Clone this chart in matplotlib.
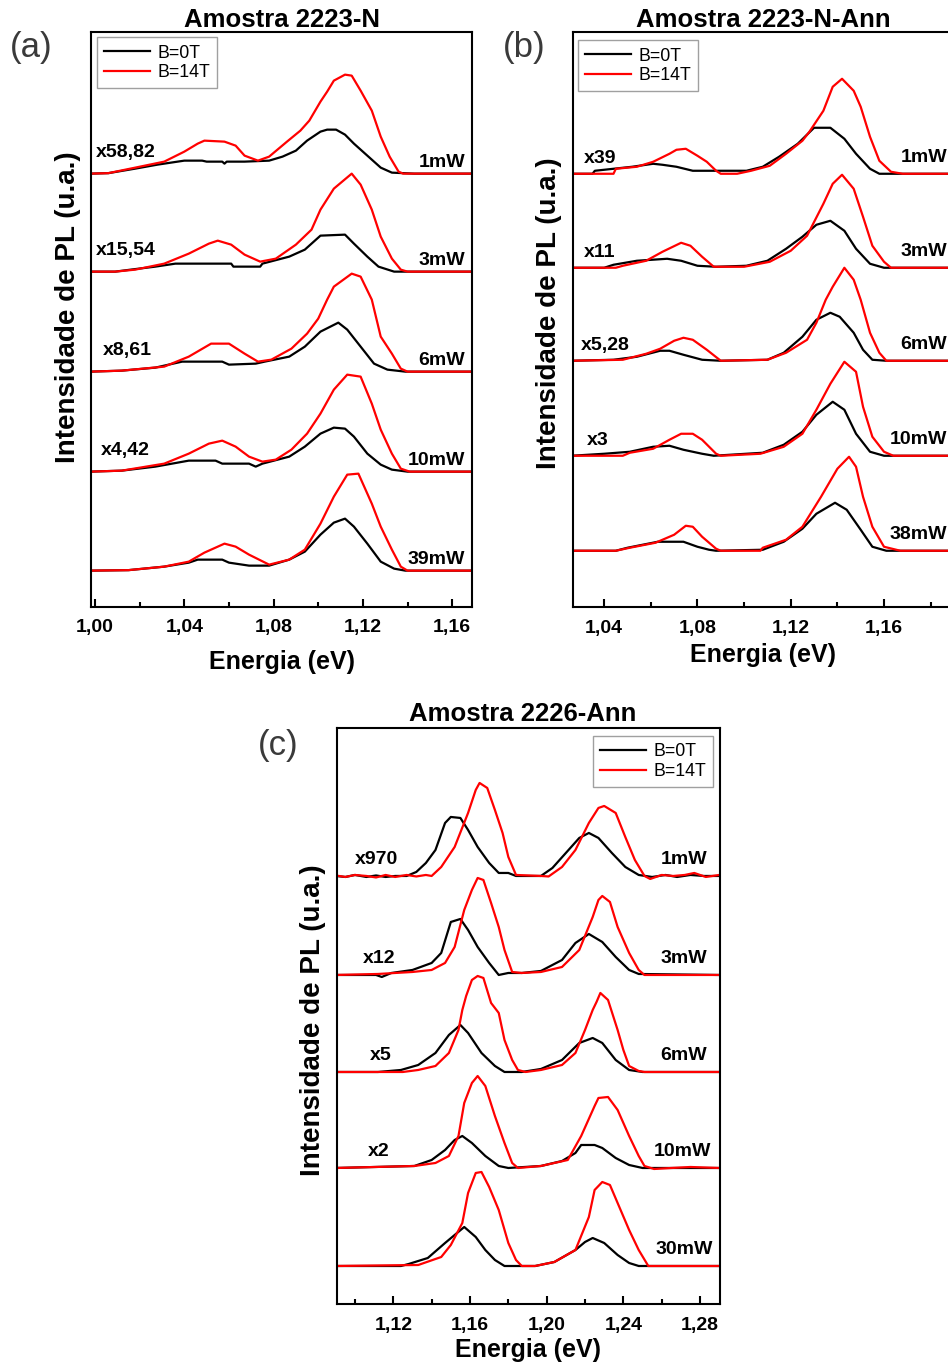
import matplotlib.pyplot as plt
from matplotlib.ticker import MultipleLocator, FuncFormatter

# fonte tipo Arial, tudo em negrito por padrao
plt.rcParams['font.family'] = ['Liberation Sans', 'DejaVu Sans']
plt.rcParams['font.weight'] = 'bold'
plt.rcParams['axes.labelweight'] = 'bold'

# ---------------- painel (a): Amostra 2223-N ----------------
A_POT = ['1mW', '3mW', '6mW', '10mW', '39mW']
A_FATOR = ['x58,82', 'x15,54', 'x8,61', 'x4,42', '']
A_OFFSET = [3.97, 2.99, 1.99, 0.99, 0.0]

a1_e0 = [0.998, 1.006, 1.018, 1.028, 1.040, 1.048, 1.050, 1.057, 1.058, 1.059, 1.067, 1.078, 1.084, 1.090, 1.095, 1.101, 1.104, 1.108, 1.112, 1.116, 1.121, 1.125, 1.128, 1.133, 1.143, 1.169]
a1_i0 = [0, 0.005, 0.05, 0.09, 0.13, 0.13, 0.12, 0.12, 0.10, 0.12, 0.12, 0.13, 0.17, 0.23, 0.33, 0.42, 0.44, 0.44, 0.39, 0.30, 0.20, 0.12, 0.06, 0.01, 0, 0]
a1_e14 = [0.998, 1.006, 1.018, 1.031, 1.040, 1.046, 1.049, 1.058, 1.063, 1.067, 1.073, 1.078, 1.086, 1.092, 1.096, 1.101, 1.104, 1.107, 1.112, 1.115, 1.119, 1.124, 1.128, 1.132, 1.136, 1.138, 1.169]
a1_i14 = [0, 0.005, 0.06, 0.12, 0.22, 0.30, 0.33, 0.32, 0.28, 0.18, 0.13, 0.17, 0.32, 0.43, 0.53, 0.72, 0.82, 0.93, 0.99, 0.98, 0.83, 0.63, 0.37, 0.17, 0.02, 0, 0]

a3_e0 = [0.998, 1.009, 1.016, 1.027, 1.036, 1.061, 1.062, 1.074, 1.075, 1.087, 1.094, 1.101, 1.112, 1.116, 1.122, 1.127, 1.134, 1.169]
a3_i0 = [0, 0, 0.02, 0.05, 0.08, 0.08, 0.05, 0.05, 0.08, 0.15, 0.22, 0.36, 0.37, 0.28, 0.15, 0.05, 0, 0]
a3_e14 = [0.998, 1.009, 1.018, 1.031, 1.042, 1.051, 1.055, 1.061, 1.067, 1.074, 1.081, 1.090, 1.097, 1.101, 1.107, 1.115, 1.119, 1.124, 1.128, 1.133, 1.137, 1.140, 1.169]
a3_i14 = [0, 0, 0.02, 0.08, 0.18, 0.28, 0.31, 0.27, 0.17, 0.10, 0.13, 0.27, 0.42, 0.62, 0.83, 0.98, 0.87, 0.62, 0.35, 0.13, 0.02, 0, 0]

a6_e0 = [0.998, 1.012, 1.027, 1.039, 1.057, 1.060, 1.072, 1.076, 1.087, 1.094, 1.101, 1.109, 1.113, 1.119, 1.125, 1.131, 1.139, 1.169]
a6_i0 = [0, 0.01, 0.04, 0.10, 0.10, 0.07, 0.08, 0.10, 0.15, 0.25, 0.40, 0.49, 0.42, 0.25, 0.08, 0.02, 0, 0]
a6_e14 = [0.998, 1.012, 1.031, 1.042, 1.052, 1.060, 1.067, 1.073, 1.079, 1.088, 1.095, 1.100, 1.104, 1.107, 1.115, 1.119, 1.124, 1.128, 1.133, 1.137, 1.140, 1.169]
a6_i14 = [0, 0.01, 0.05, 0.15, 0.28, 0.28, 0.18, 0.10, 0.12, 0.23, 0.38, 0.53, 0.72, 0.85, 0.98, 0.95, 0.72, 0.35, 0.18, 0.03, 0, 0]

a10_e0 = [0.998, 1.012, 1.027, 1.042, 1.054, 1.057, 1.069, 1.072, 1.075, 1.087, 1.094, 1.101, 1.107, 1.112, 1.116, 1.122, 1.128, 1.133, 1.140, 1.169]
a10_i0 = [0, 0.01, 0.05, 0.11, 0.11, 0.08, 0.08, 0.05, 0.08, 0.15, 0.25, 0.38, 0.44, 0.43, 0.35, 0.18, 0.07, 0.02, 0, 0]
a10_e14 = [0.998, 1.012, 1.031, 1.042, 1.051, 1.057, 1.063, 1.069, 1.075, 1.081, 1.088, 1.095, 1.101, 1.107, 1.113, 1.119, 1.124, 1.128, 1.133, 1.137, 1.141, 1.169]
a10_i14 = [0, 0.01, 0.08, 0.18, 0.28, 0.31, 0.25, 0.15, 0.10, 0.12, 0.22, 0.38, 0.58, 0.82, 0.97, 0.95, 0.68, 0.42, 0.18, 0.03, 0, 0]

a39_e0 = [0.998, 1.015, 1.031, 1.042, 1.046, 1.057, 1.060, 1.069, 1.078, 1.087, 1.094, 1.101, 1.107, 1.112, 1.116, 1.122, 1.128, 1.134, 1.139, 1.169]
a39_i0 = [0, 0.005, 0.04, 0.08, 0.11, 0.11, 0.08, 0.05, 0.05, 0.11, 0.19, 0.36, 0.48, 0.52, 0.44, 0.27, 0.09, 0.02, 0, 0]
a39_e14 = [0.998, 1.015, 1.031, 1.042, 1.049, 1.058, 1.063, 1.069, 1.078, 1.087, 1.094, 1.101, 1.107, 1.113, 1.118, 1.124, 1.128, 1.133, 1.137, 1.140, 1.169]
a39_i14 = [0, 0.005, 0.04, 0.09, 0.18, 0.27, 0.24, 0.16, 0.06, 0.11, 0.21, 0.47, 0.74, 0.96, 0.97, 0.67, 0.44, 0.21, 0.04, 0, 0]

# ---------------- painel (b): Amostra 2223-N-Ann ----------------
B_POT = ['1mW', '3mW', '6mW', '10mW', '38mW']
B_FATOR = ['x39', 'x11', 'x5,28', 'x3', '']
B_OFFSET = [3.77, 2.83, 1.90, 0.95, 0.0]

b1_e0 = [1.026, 1.035, 1.036, 1.044, 1.052, 1.061, 1.065, 1.071, 1.078, 1.088, 1.101, 1.108, 1.115, 1.123, 1.130, 1.137, 1.143, 1.148, 1.154, 1.158, 1.19]
b1_i0 = [0, 0, 0.03, 0.05, 0.07, 0.10, 0.09, 0.07, 0.03, 0.03, 0.03, 0.07, 0.17, 0.30, 0.46, 0.46, 0.35, 0.20, 0.05, 0, 0]
b1_e14 = [1.026, 1.044, 1.045, 1.054, 1.061, 1.068, 1.071, 1.075, 1.080, 1.084, 1.088, 1.090, 1.097, 1.103, 1.111, 1.118, 1.125, 1.128, 1.134, 1.138, 1.142, 1.147, 1.150, 1.154, 1.158, 1.163, 1.168, 1.19]
b1_i14 = [0, 0, 0.05, 0.07, 0.12, 0.20, 0.24, 0.25, 0.18, 0.12, 0.03, 0, 0, 0.03, 0.08, 0.20, 0.33, 0.42, 0.63, 0.87, 0.95, 0.83, 0.67, 0.37, 0.13, 0.02, 0, 0]

b3_e0 = [1.026, 1.040, 1.044, 1.054, 1.067, 1.073, 1.080, 1.088, 1.101, 1.110, 1.118, 1.125, 1.131, 1.137, 1.143, 1.148, 1.154, 1.160, 1.19]
b3_i0 = [0, 0, 0.03, 0.07, 0.09, 0.07, 0.02, 0.01, 0.02, 0.07, 0.19, 0.31, 0.43, 0.47, 0.37, 0.19, 0.04, 0, 0]
b3_e14 = [1.026, 1.045, 1.048, 1.058, 1.065, 1.073, 1.077, 1.082, 1.087, 1.100, 1.111, 1.120, 1.127, 1.134, 1.138, 1.142, 1.147, 1.151, 1.155, 1.160, 1.163, 1.19]
b3_i14 = [0, 0, 0.02, 0.07, 0.16, 0.25, 0.22, 0.11, 0.01, 0.01, 0.06, 0.17, 0.32, 0.64, 0.84, 0.93, 0.79, 0.51, 0.22, 0.06, 0, 0]

b6_e0 = [1.026, 1.044, 1.054, 1.064, 1.068, 1.074, 1.082, 1.090, 1.110, 1.117, 1.125, 1.131, 1.137, 1.141, 1.147, 1.151, 1.155, 1.161, 1.19]
b6_i0 = [0, 0.01, 0.04, 0.10, 0.10, 0.06, 0.01, 0, 0.01, 0.08, 0.24, 0.41, 0.48, 0.44, 0.28, 0.11, 0.01, 0, 0]
b6_e14 = [1.026, 1.048, 1.058, 1.064, 1.070, 1.074, 1.078, 1.084, 1.090, 1.110, 1.118, 1.127, 1.131, 1.135, 1.138, 1.143, 1.147, 1.150, 1.154, 1.158, 1.161, 1.19]
b6_i14 = [0, 0.01, 0.07, 0.12, 0.20, 0.23, 0.21, 0.11, 0, 0.01, 0.08, 0.21, 0.38, 0.61, 0.74, 0.93, 0.81, 0.61, 0.28, 0.08, 0, 0]

b10_e0 = [1.026, 1.040, 1.051, 1.061, 1.068, 1.074, 1.082, 1.087, 1.108, 1.117, 1.125, 1.131, 1.138, 1.143, 1.148, 1.154, 1.160, 1.19]
b10_i0 = [0, 0.02, 0.04, 0.09, 0.10, 0.06, 0.02, 0, 0.03, 0.11, 0.24, 0.41, 0.54, 0.46, 0.22, 0.04, 0, 0]
b10_e14 = [1.026, 1.048, 1.051, 1.061, 1.068, 1.073, 1.078, 1.082, 1.088, 1.090, 1.107, 1.117, 1.125, 1.131, 1.137, 1.143, 1.148, 1.151, 1.155, 1.160, 1.164, 1.19]
b10_i14 = [0, 0, 0.03, 0.07, 0.16, 0.22, 0.22, 0.16, 0.02, 0, 0.02, 0.09, 0.22, 0.46, 0.72, 0.94, 0.84, 0.49, 0.19, 0.04, 0, 0]

b38_e0 = [1.026, 1.045, 1.050, 1.063, 1.074, 1.080, 1.085, 1.088, 1.108, 1.117, 1.125, 1.131, 1.139, 1.144, 1.150, 1.155, 1.161, 1.19]
b38_i0 = [0, 0, 0.03, 0.09, 0.09, 0.04, 0.01, 0, 0.01, 0.09, 0.22, 0.37, 0.48, 0.41, 0.21, 0.04, 0, 0]
b38_e14 = [1.026, 1.045, 1.051, 1.062, 1.070, 1.075, 1.078, 1.082, 1.088, 1.090, 1.107, 1.108, 1.118, 1.125, 1.133, 1.140, 1.145, 1.148, 1.151, 1.155, 1.160, 1.167, 1.19]
b38_i14 = [0, 0, 0.03, 0.08, 0.16, 0.25, 0.24, 0.14, 0.02, 0, 0, 0.03, 0.11, 0.24, 0.54, 0.82, 0.94, 0.84, 0.54, 0.24, 0.04, 0, 0]

# ---------------- painel (c): Amostra 2226-Ann ----------------
C_POT = ['1mW', '3mW', '6mW', '10mW', '30mW']
C_FATOR = ['x970', 'x12', 'x5', 'x2', '']
C_OFFSET = [3.90, 2.91, 1.94, 0.98, 0.0]

c1_e0 = [1.090, 1.095, 1.100, 1.106, 1.111, 1.116, 1.121, 1.127, 1.132, 1.137, 1.142, 1.147, 1.150, 1.155, 1.159, 1.164, 1.170, 1.175, 1.180, 1.184, 1.197, 1.203, 1.210, 1.217, 1.222, 1.227, 1.234, 1.241, 1.248, 1.255, 1.262, 1.268, 1.275, 1.282, 1.290]
c1_i0 = [0, -0.01, 0.01, -0.01, 0.005, -0.01, 0, 0, 0.04, 0.13, 0.26, 0.53, 0.59, 0.58, 0.46, 0.29, 0.13, 0.03, 0.03, 0, 0, 0.08, 0.23, 0.38, 0.43, 0.38, 0.23, 0.09, 0.01, -0.01, 0.01, -0.01, 0.01, 0, 0]
c1_e14 = [1.090, 1.095, 1.100, 1.106, 1.111, 1.116, 1.121, 1.127, 1.132, 1.137, 1.140, 1.145, 1.152, 1.159, 1.163, 1.165, 1.169, 1.173, 1.177, 1.180, 1.184, 1.197, 1.201, 1.208, 1.215, 1.222, 1.227, 1.230, 1.236, 1.241, 1.246, 1.251, 1.254, 1.260, 1.266, 1.272, 1.277, 1.283, 1.290]
c1_i14 = [0.005, -0.01, 0.01, 0, -0.015, 0.01, -0.01, 0.01, -0.005, 0.01, 0, 0.09, 0.29, 0.63, 0.86, 0.93, 0.88, 0.66, 0.43, 0.19, 0.01, 0, -0.005, 0.09, 0.26, 0.53, 0.68, 0.70, 0.63, 0.39, 0.16, 0, -0.03, 0.01, 0, 0.01, 0.03, -0.01, 0.01]

c3_e0 = [1.090, 1.111, 1.114, 1.119, 1.130, 1.140, 1.145, 1.150, 1.155, 1.159, 1.164, 1.170, 1.175, 1.180, 1.187, 1.197, 1.208, 1.215, 1.222, 1.229, 1.236, 1.243, 1.248, 1.290]
c3_i0 = [0, 0, -0.02, 0.02, 0.05, 0.12, 0.22, 0.53, 0.56, 0.45, 0.28, 0.12, 0, 0.02, 0.02, 0.04, 0.15, 0.32, 0.41, 0.33, 0.18, 0.05, 0.01, 0]
c3_e14 = [1.090, 1.112, 1.130, 1.140, 1.147, 1.152, 1.157, 1.161, 1.164, 1.167, 1.171, 1.175, 1.178, 1.182, 1.187, 1.197, 1.208, 1.217, 1.224, 1.227, 1.229, 1.233, 1.237, 1.243, 1.248, 1.251, 1.290]
c3_i14 = [0, 0.01, 0.03, 0.05, 0.12, 0.28, 0.65, 0.85, 0.97, 0.95, 0.72, 0.48, 0.25, 0.03, 0.02, 0.03, 0.08, 0.25, 0.58, 0.75, 0.79, 0.73, 0.48, 0.22, 0.05, 0, 0]

c6_e0 = [1.090, 1.112, 1.124, 1.133, 1.142, 1.149, 1.155, 1.159, 1.166, 1.173, 1.178, 1.187, 1.197, 1.208, 1.217, 1.224, 1.229, 1.236, 1.243, 1.250, 1.290]
c6_i0 = [0, 0, 0.02, 0.07, 0.19, 0.37, 0.47, 0.39, 0.19, 0.06, 0, 0, 0.03, 0.12, 0.29, 0.34, 0.29, 0.12, 0.02, 0, 0]
c6_e14 = [1.090, 1.125, 1.133, 1.142, 1.149, 1.154, 1.156, 1.158, 1.161, 1.164, 1.167, 1.171, 1.175, 1.178, 1.182, 1.185, 1.189, 1.197, 1.208, 1.215, 1.220, 1.224, 1.226, 1.228, 1.232, 1.237, 1.240, 1.243, 1.248, 1.251, 1.290]
c6_i14 = [0, 0, 0.02, 0.06, 0.19, 0.42, 0.62, 0.76, 0.92, 0.96, 0.94, 0.69, 0.59, 0.32, 0.12, 0.02, 0, 0.02, 0.07, 0.19, 0.42, 0.62, 0.70, 0.79, 0.72, 0.42, 0.22, 0.06, 0.01, 0, 0]

c10_e0 = [1.090, 1.131, 1.140, 1.147, 1.152, 1.156, 1.161, 1.168, 1.175, 1.180, 1.197, 1.208, 1.215, 1.218, 1.225, 1.229, 1.236, 1.243, 1.250, 1.290]
c10_i0 = [0, 0.02, 0.08, 0.18, 0.28, 0.32, 0.25, 0.12, 0.02, 0, 0.02, 0.07, 0.15, 0.23, 0.23, 0.20, 0.10, 0.03, 0, 0]
c10_e14 = [1.090, 1.131, 1.142, 1.149, 1.154, 1.157, 1.161, 1.164, 1.168, 1.173, 1.178, 1.182, 1.185, 1.197, 1.211, 1.218, 1.225, 1.227, 1.232, 1.237, 1.243, 1.248, 1.251, 1.256, 1.265, 1.275, 1.290]
c10_i14 = [0, 0.02, 0.05, 0.12, 0.32, 0.65, 0.85, 0.92, 0.82, 0.52, 0.25, 0.05, 0, 0.02, 0.08, 0.32, 0.62, 0.70, 0.71, 0.58, 0.32, 0.12, 0.02, -0.01, 0, 0.01, 0]

c30_e0 = [1.090, 1.124, 1.128, 1.138, 1.147, 1.152, 1.157, 1.163, 1.168, 1.173, 1.178, 1.194, 1.204, 1.215, 1.220, 1.224, 1.230, 1.237, 1.243, 1.248, 1.290]
c30_i0 = [0, 0, 0.02, 0.08, 0.23, 0.31, 0.39, 0.29, 0.16, 0.06, 0, 0, 0.04, 0.16, 0.24, 0.28, 0.23, 0.11, 0.03, 0, 0]
c30_e14 = [1.090, 1.133, 1.145, 1.150, 1.156, 1.159, 1.163, 1.166, 1.170, 1.175, 1.180, 1.184, 1.187, 1.194, 1.204, 1.215, 1.222, 1.225, 1.229, 1.233, 1.237, 1.243, 1.248, 1.253, 1.290]
c30_i14 = [0, 0.01, 0.09, 0.21, 0.43, 0.73, 0.93, 0.94, 0.79, 0.56, 0.23, 0.06, 0, 0, 0.04, 0.16, 0.49, 0.76, 0.84, 0.81, 0.63, 0.36, 0.16, 0, 0]


def virgula(v, pos):
    return f'{v:.2f}'.replace('.', ',')


def painel(ax, curvas, offsets, fatores, potencias, titulo, xlim, ylim,
           x_fator, dy_fator, x_pot, dy_pot, leg_loc, leg_anchor,
           xlab_y, ylab_xy, title_pad, title_x=0.5):
    for (e0, i0, e14, i14), off in zip(curvas, offsets):
        l0, = ax.plot(e0, [v + off for v in i0], color='black', lw=1.6)
        l14, = ax.plot(e14, [v + off for v in i14], color='#ff0000', lw=1.6)

    # fator de multiplicacao (esquerda) e potencia (direita)
    tr = ax.get_yaxis_transform()
    for k, off in enumerate(offsets):
        if fatores[k]:
            ax.text(x_fator[k], off + dy_fator, fatores[k], transform=tr,
                    ha='left', va='center', fontsize=14)
        ax.text(x_pot[k], off + dy_pot, potencias[k], transform=tr,
                ha='right', va='center', fontsize=14)

    ax.set_xlim(*xlim)
    ax.set_ylim(*ylim)
    ax.set_yticks([])
    ax.xaxis.set_major_locator(MultipleLocator(0.04))
    ax.xaxis.set_minor_locator(MultipleLocator(0.02))
    ax.xaxis.set_major_formatter(FuncFormatter(virgula))
    ax.tick_params(axis='x', which='both', direction='in', width=1.5,
                   labelsize=14, pad=9)
    ax.tick_params(axis='x', which='major', length=6)
    ax.tick_params(axis='x', which='minor', length=3.5)
    for s in ax.spines.values():
        s.set_linewidth(1.5)

    ax.set_title(titulo, fontsize=18.5, fontweight='bold', pad=title_pad,
                 x=title_x)
    ax.set_xlabel('Energia (eV)', fontsize=18, fontweight='bold')
    ax.xaxis.set_label_coords(0.5, xlab_y)
    ax.set_ylabel('Intensidade de PL (u.a.)', fontsize=20, fontweight='bold')
    ax.yaxis.set_label_coords(*ylab_xy)

    leg = ax.legend([l0, l14], ['B=0T', 'B=14T'], loc=leg_loc,
                    bbox_to_anchor=leg_anchor, borderaxespad=0,
                    prop={'size': 12.8, 'weight': 'normal'},
                    fancybox=False, framealpha=1, edgecolor='#a0a0a0',
                    handlelength=2.6, handletextpad=0.4, labelspacing=0.15,
                    borderpad=0.4)
    leg.get_frame().set_linewidth(1.0)


fig = plt.figure(figsize=(9.48, 13.66), dpi=100)

ax_a = fig.add_axes([0.0960, 0.5559, 0.4019, 0.4205])
painel(ax_a,
       [(a1_e0, a1_i0, a1_e14, a1_i14), (a3_e0, a3_i0, a3_e14, a3_i14),
        (a6_e0, a6_i0, a6_e14, a6_i14), (a10_e0, a10_i0, a10_e14, a10_i14),
        (a39_e0, a39_i0, a39_e14, a39_i14)],
       A_OFFSET, A_FATOR, A_POT, 'Amostra 2223-N',
       (0.9982, 1.1689), (-0.36, 5.384),
       [0.013, 0.013, 0.0315, 0.026, 0], 0.21, [0.982] * 5, 0.11,
       'upper left', (0.016, 0.991), -0.075, (-0.027, 0.522), 4)

ax_b = fig.add_axes([0.6041, 0.5556, 0.4022, 0.4207])
painel(ax_b,
       [(b1_e0, b1_i0, b1_e14, b1_i14), (b3_e0, b3_i0, b3_e14, b3_i14),
        (b6_e0, b6_i0, b6_e14, b6_i14), (b10_e0, b10_i0, b10_e14, b10_i14),
        (b38_e0, b38_i0, b38_e14, b38_i14)],
       B_OFFSET, B_FATOR, B_POT, 'Amostra 2223-N-Ann',
       (1.0265, 1.19), (-0.563, 5.184),
       [0.0296, 0.0296, 0.0218, 0.0375, 0], 0.15, [0.982] * 5, 0.16,
       'upper left', (0.014, 0.986), -0.062, (-0.028, 0.512), 4)

ax_c = fig.add_axes([0.3552, 0.04517, 0.4043, 0.4217])
painel(ax_c,
       [(c1_e0, c1_i0, c1_e14, c1_i14), (c3_e0, c3_i0, c3_e14, c3_i14),
        (c6_e0, c6_i0, c6_e14, c6_i14), (c10_e0, c10_i0, c10_e14, c10_i14),
        (c30_e0, c30_i0, c30_e14, c30_i14)],
       C_OFFSET, C_FATOR, C_POT, 'Amostra 2226-Ann',
       (1.0905, 1.2904), (-0.383, 5.377),
       [0.0477, 0.0686, 0.0869, 0.0817, 0], 0.16,
       [0.966, 0.966, 0.966, 0.9765, 0.9817], 0.16,
       'upper right', (0.982, 0.986), -0.058, (-0.029, 0.494), 5, 0.485)

# rotulos dos paineis
for txt, x, y in [('(a)', 10, 48), ('(b)', 503, 48), ('(c)', 258, 745)]:
    fig.text(x / 948, 1 - y / 1366, txt, fontsize=25, fontweight='normal',
             color='#3a3a3a', ha='left', va='center')

fig.savefig('out.png', dpi=100, facecolor='white')
